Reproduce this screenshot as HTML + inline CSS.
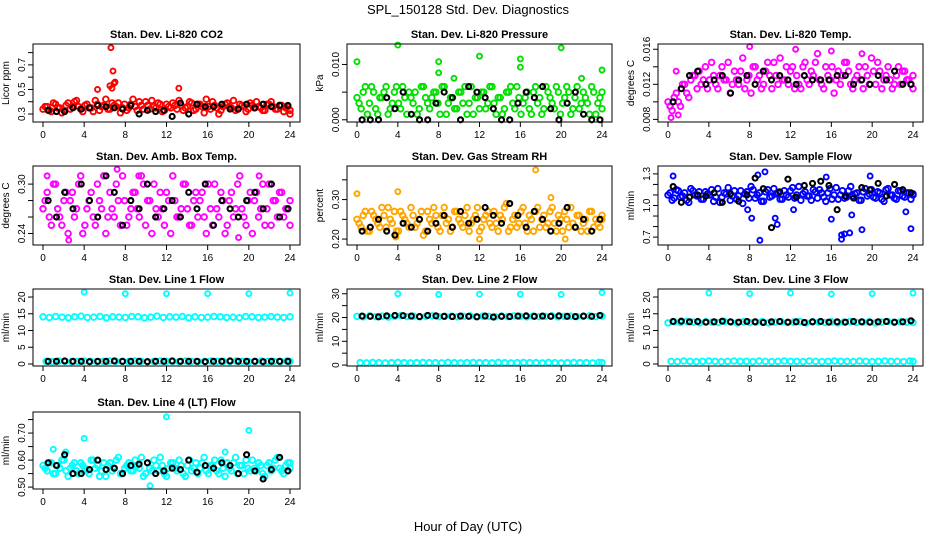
<!DOCTYPE html>
<html><head><meta charset="utf-8">
<style>
body{margin:0;background:#fff;}
svg{display:block;font-family:"Liberation Sans",sans-serif;}
</style></head>
<body>
<svg id="chart" width="936" height="540" viewBox="0 0 936 540">
<rect x="0" y="0" width="936" height="540" fill="#fff"/>
<text x="468" y="14" font-size="13" text-anchor="middle">SPL_150128  Std. Dev. Diagnostics</text>
<text x="468" y="531" font-size="13" text-anchor="middle">Hour of Day (UTC)</text>
</svg>
<script>
const xTicks = [0,4,8,12,16,20,24];

// P1 CO2
const co2Main = [0.34,0.36,0.32,0.38,0.35,0.33,0.39,0.36,0.41,0.34,0.37,0.35,0.32,0.38,0.36,0.42,0.34,0.37,0.39,0.35,0.33,0.38,0.36,0.40,0.34,0.37,0.41,0.35,0.38,0.33,0.36,0.39,0.34,0.37,0.35,0.40,0.33,0.38,0.36,0.42,0.34,0.37,0.30,0.36,0.39,0.35,0.33,0.38,0.36,0.34,0.37,0.40,0.35,0.33,0.38,0.36,0.34,0.37,0.35,0.30];
const co2B = [0.36,0.33,0.39,0.35,0.31,0.37,0.34,0.40,0.36,0.32,0.38,0.35,0.41,0.33,0.37,0.34,0.39,0.36,0.31,0.38,0.35,0.42,0.33,0.37,0.40,0.34,0.36,0.39,0.32,0.38,0.35,0.37,0.41,0.33,0.36,0.39,0.34,0.38,0.31,0.36,0.40,0.35,0.33,0.38,0.36,0.41,0.34,0.37,0.32,0.39,0.35,0.36,0.33,0.38,0.40,0.34,0.37,0.32,0.36,0.33];
const co2Out = [[6.6,0.84],[6.8,0.65],[5.3,0.50],[6.9,0.55],[7.0,0.56],[6.5,0.53],[13.2,0.51],[6.7,0.51]];
const co2Black = [0.33,0.32,0.32,0.35,0.34,0.35,0.37,0.36,0.35,0.34,0.37,0.30,0.33,0.32,0.33,0.28,0.39,0.30,0.38,0.36,0.36,0.38,0.34,0.34,0.38,0.35,0.38,0.36,0.37,0.37];
// P2 Pressure
const presMain = [0.004,0.002,0.006,0.003,0.005,0.001,0.004,0.006,0.002,0.005,0.003,0.006,0.001,0.004,0.005,0.002,0.006,0.003,0.004,0.005,0.001,0.006,0.003,0.004,0.002,0.005,0.006,0.003,0.001,0.004,0.005,0.002,0.006,0.003,0.004,0.001,0.005,0.006,0.002,0.004,0.003,0.005,0.001,0.006,0.004,0.002,0.005,0.003,0.006,0.001,0.004,0.005,0.002,0.006,0.003,0.004,0.001,0.005,0.003,0.002];
const presB = [0.003,0.005,0.001,0.006,0.002,0.004,0.005,0.001,0.003,0.006,0.002,0.004,0.005,0.003,0.001,0.006,0.004,0.002,0.005,0.003,0.006,0.001,0.004,0.002,0.005,0.003,0.001,0.006,0.004,0.002,0.005,0.003,0.006,0.001,0.004,0.002,0.005,0.003,0.006,0.001,0.004,0.002,0.005,0.003,0.001,0.006,0.004,0.002,0.005,0.003,0.006,0.001,0.004,0.002,0.005,0.003,0.006,0.001,0.004,0.005];
const presOut = [[0,0.0105],[4,0.0135],[8,0.0085],[8,0.0105],[12,0.0115],[16,0.0095],[16,0.011],[20,0.013],[24,0.009],[9.5,0.0075],[22,0.0075]];
const presBlack = [0,0,0,0.004,0.002,0.005,0.001,0,0,0.003,0.005,0.004,0,0.006,0.005,0.004,0.002,0,0,0.003,0.005,0.004,0.006,0.002,0,0.003,0.005,0.001,0,0];
// P3 Li-820 temp
const tempMain = [0.010,0.009,0.011,0.0095,0.012,0.0105,0.013,0.0115,0.012,0.014,0.0125,0.013,0.0115,0.014,0.0125,0.011,0.0135,0.012,0.015,0.0125,0.011,0.014,0.013,0.012,0.0145,0.0115,0.013,0.015,0.0125,0.012,0.014,0.013,0.0115,0.0145,0.012,0.013,0.0155,0.012,0.014,0.0125,0.011,0.0135,0.013,0.0145,0.012,0.0125,0.014,0.0115,0.013,0.015,0.012,0.0135,0.0125,0.014,0.0115,0.013,0.012,0.0135,0.0125,0.0115];
const tempB = [0.0095,0.0105,0.010,0.012,0.011,0.0125,0.013,0.0135,0.0125,0.0115,0.0145,0.012,0.013,0.0125,0.0145,0.012,0.0125,0.0135,0.0115,0.013,0.014,0.0125,0.0115,0.0135,0.013,0.0145,0.012,0.0125,0.014,0.0135,0.0115,0.012,0.014,0.0125,0.0135,0.0145,0.0125,0.0115,0.013,0.014,0.0125,0.012,0.0145,0.0135,0.0115,0.013,0.0125,0.014,0.012,0.0135,0.0145,0.0115,0.013,0.0125,0.012,0.014,0.0135,0.0125,0.012,0.013];
const tempOut = [[0.3,0.0082],[0.2,0.0095],[1,0.0085],[8,0.0163],[12.5,0.016],[16,0.0158],[19,0.0155],[0.8,0.0135]];
const tempBlack = [0.010,0.0115,0.013,0.0135,0.012,0.0125,0.013,0.011,0.0125,0.013,0.012,0.0135,0.0125,0.013,0.0125,0.012,0.013,0.0125,0.0125,0.0125,0.013,0.013,0.012,0.0125,0.012,0.013,0.0125,0.0135,0.012,0.012];
// P4 Amb box temp
const ambMain = [0.27,0.29,0.25,0.30,0.26,0.28,0.24,0.29,0.27,0.31,0.25,0.28,0.26,0.30,0.27,0.24,0.29,0.26,0.28,0.31,0.25,0.27,0.29,0.26,0.30,0.28,0.24,0.27,0.29,0.25,0.28,0.31,0.26,0.27,0.30,0.25,0.28,0.26,0.29,0.24,0.27,0.30,0.26,0.28,0.25,0.29,0.27,0.31,0.26,0.28,0.24,0.29,0.27,0.25,0.30,0.28,0.26,0.29,0.27,0.25];
const ambB = [0.28,0.26,0.30,0.27,0.25,0.29,0.28,0.26,0.30,0.24,0.27,0.29,0.25,0.28,0.31,0.26,0.27,0.30,0.25,0.28,0.26,0.29,0.27,0.31,0.25,0.28,0.30,0.26,0.27,0.29,0.24,0.28,0.26,0.30,0.27,0.25,0.29,0.28,0.26,0.30,0.25,0.27,0.29,0.24,0.28,0.26,0.30,0.27,0.25,0.29,0.28,0.26,0.30,0.27,0.25,0.28,0.29,0.26,0.27,0.28];
const ambOut = [[7.2,0.318],[9.3,0.31],[21,0.31],[0.4,0.31],[19,0.235],[2.5,0.232]];
const ambBlack = [0.28,0.26,0.29,0.27,0.30,0.28,0.26,0.31,0.29,0.25,0.28,0.27,0.30,0.26,0.27,0.28,0.26,0.29,0.27,0.30,0.25,0.28,0.27,0.26,0.28,0.29,0.27,0.30,0.26,0.27];
// P5 RH
const rhMain = [0.25,0.23,0.27,0.22,0.26,0.24,0.28,0.23,0.25,0.27,0.22,0.26,0.24,0.28,0.23,0.25,0.21,0.27,0.24,0.26,0.22,0.28,0.25,0.23,0.27,0.24,0.26,0.22,0.25,0.28,0.23,0.26,0.24,0.27,0.22,0.25,0.29,0.23,0.26,0.24,0.28,0.22,0.25,0.27,0.23,0.26,0.24,0.28,0.22,0.25,0.27,0.23,0.24,0.26,0.22,0.25,0.27,0.23,0.24,0.26];
const rhB = [0.24,0.26,0.22,0.27,0.25,0.23,0.26,0.28,0.24,0.22,0.27,0.25,0.23,0.26,0.24,0.27,0.22,0.25,0.28,0.23,0.26,0.24,0.22,0.27,0.25,0.23,0.28,0.24,0.26,0.22,0.25,0.27,0.23,0.24,0.26,0.28,0.22,0.25,0.23,0.27,0.24,0.26,0.22,0.28,0.25,0.23,0.27,0.24,0.26,0.22,0.25,0.28,0.23,0.26,0.24,0.22,0.27,0.25,0.23,0.25];
const rhOut = [[0,0.315],[4,0.32],[17.5,0.375],[19,0.305],[3.8,0.205],[12,0.20],[20.4,0.20]];
const rhBlack = [0.22,0.23,0.25,0.22,0.21,0.24,0.23,0.25,0.22,0.24,0.26,0.23,0.27,0.24,0.25,0.28,0.26,0.24,0.29,0.26,0.23,0.27,0.25,0.22,0.24,0.28,0.23,0.25,0.22,0.25];
// P6 Sample flow
const sfMain = [1.10,1.05,1.15,1.08,1.12,1.03,1.14,1.09,1.06,1.13,1.10,1.04,1.16,1.08,1.11,1.05,1.14,1.09,1.02,1.13,1.18,1.07,1.12,1.04,1.15,1.09,1.11,1.06,1.14,1.08,1.17,1.10,1.05,1.13,1.09,1.15,1.07,1.12,1.04,1.16,1.10,1.06,1.14,1.08,1.18,1.11,1.05,1.13,1.09,1.15,1.07,1.12,1.04,1.16,1.10,1.06,1.14,1.08,1.12,1.10];
const sfB = [1.12,1.07,1.14,1.09,1.05,1.16,1.10,1.13,1.06,1.11,1.15,1.08,1.03,1.12,1.17,1.09,1.06,1.14,1.11,1.07,1.15,1.10,1.04,1.13,1.08,1.16,1.12,1.06,1.10,1.14,1.07,1.18,1.11,1.09,1.05,1.13,1.15,1.08,1.12,1.06,1.17,1.10,1.07,1.14,1.09,1.12,1.05,1.16,1.11,1.08,1.13,1.06,1.15,1.10,1.07,1.14,1.09,1.12,1.06,1.11];
const sfOut = [[0.5,1.28],[8.8,1.29],[9.5,1.32],[15.5,1.27],[19.8,1.28],[8.2,0.88],[10.5,0.88],[10.7,0.82],[12.3,0.96],[16,0.87],[17,0.72],[17.3,0.73],[17.8,0.74],[9,0.67],[17,0.68],[19,0.77],[23.8,0.78],[18,0.91],[23.3,0.94],[7.8,0.96]];
const sfBlack = [1.18,1.03,1.08,1.10,1.09,1.12,1.03,1.11,1.04,1.10,1.26,1.16,0.79,1.13,1.25,1.08,1.19,1.21,1.23,1.19,0.96,1.09,1.07,1.17,1.15,1.21,1.09,1.20,1.15,1.12];
// P7 Line 1
const l1High = [14.1,13.9,14.2,14.0,13.8,14.1,14.3,13.9,14.0,14.2,13.8,14.1,14.0,13.9,14.2,14.1,13.8,14.0,14.3,13.9,14.1,14.0,14.2,13.8,14.1,13.9,14.0,14.2,14.1,13.9,14.0,13.8,14.2,14.1,13.9,14.0,14.2,14.0,13.9,14.1];
const l1Low = [0.8,0.7,0.9,0.8,0.7,0.8,0.9,0.8,0.7,0.8,0.9,0.8,0.8,0.7,0.9,0.8,0.7,0.8,0.9,0.8,0.8,0.7,0.9,0.8,0.7,0.8,0.9,0.8,0.8,0.7,0.9,0.8,0.7,0.8,0.9,0.8,0.8,0.7,0.9,0.8];
const l1Out = [[4,21.5],[8,21],[12,21],[16,21],[20,21],[24,21.2]];
const l1Black = [0.8,0.8,0.9,0.8,0.8,0.7,0.8,0.8,0.9,0.8,0.8,0.8,0.7,0.8,0.8,0.9,0.8,0.8,0.8,0.7,0.8,0.8,0.9,0.8,0.8,0.8,0.7,0.8,0.8,0.8];
// P8 Line 2
const l2High = [20.5,20.3,20.7,20.4,20.6,20.2,20.5,20.8,20.4,20.6,20.3,20.5,20.7,20.4,20.5,20.6,20.3,20.5,20.7,20.4,20.6,20.5,20.3,20.6,20.4,20.7,20.5,20.3,20.6,20.4,20.5,20.7,20.3,20.5,20.6,20.4,20.5,20.7,20.4,20.6];
const l2Low = [1.0,0.9,1.1,1.0,0.9,1.0,1.1,1.0,0.9,1.0,1.1,1.0,1.0,0.9,1.1,1.0,0.9,1.0,1.1,1.0,1.0,0.9,1.1,1.0,0.9,1.0,1.1,1.0,1.0,0.9,1.1,1.0,0.9,1.0,1.1,1.0,1.0,0.9,1.1,1.0];
const l2Out = [[4,30],[8,29.7],[12,29.8],[16,29.8],[20,29.7],[24,30.5]];
const l2Black = [20.6,20.5,20.3,20.7,20.9,20.8,20.6,20.4,20.9,20.7,20.5,20.4,20.6,20.5,20.3,20.6,20.2,20.5,20.4,20.6,20.7,20.5,20.6,20.5,20.7,20.5,20.4,20.6,20.5,20.9];
// P9 Line 3
const l3High = [12.3,12.6,12.4,12.7,12.5,12.3,12.6,12.5,12.4,12.7,12.5,12.3,12.6,12.4,12.5,12.7,12.3,12.5,12.6,12.4,12.5,12.7,12.3,12.6,12.5,12.4,12.6,12.3,12.5,12.7,12.4,12.5,12.6,12.3,12.5,12.7,12.4,12.6,12.5,12.4];
const l3Low = [0.8,0.7,0.9,0.8,0.7,0.8,0.9,0.8,0.7,0.8,0.9,0.8,0.8,0.7,0.9,0.8,0.7,0.8,0.9,0.8,0.8,0.7,0.9,0.8,0.7,0.8,0.9,0.8,0.8,0.7,0.9,0.8,0.7,0.8,0.9,0.8,0.8,0.7,0.9,0.8];
const l3Out = [[4,21.2],[8,21],[12,21.2],[16,20.9],[20,21],[24,21.2]];
const l3Black = [12.7,12.8,12.6,12.7,12.5,12.6,12.8,12.6,12.5,12.7,12.6,12.4,12.6,12.7,12.5,12.6,12.4,12.6,12.7,12.5,12.6,12.5,12.7,12.6,12.5,12.6,12.7,12.5,12.6,12.9];
// P10 Line 4
const l4Main = [0.58,0.56,0.59,0.55,0.57,0.60,0.54,0.58,0.56,0.59,0.57,0.55,0.60,0.58,0.56,0.54,0.59,0.57,0.61,0.55,0.58,0.56,0.60,0.57,0.54,0.59,0.56,0.58,0.61,0.55,0.57,0.59,0.56,0.58,0.54,0.60,0.57,0.55,0.59,0.56,0.58,0.60,0.55,0.57,0.59,0.56,0.61,0.58,0.55,0.57,0.60,0.56,0.58,0.54,0.59,0.57,0.61,0.56,0.58,0.59];
const l4B = [0.57,0.59,0.55,0.58,0.60,0.56,0.57,0.59,0.55,0.58,0.56,0.60,0.57,0.54,0.59,0.58,0.56,0.60,0.55,0.57,0.59,0.56,0.58,0.61,0.55,0.57,0.60,0.56,0.58,0.54,0.59,0.57,0.60,0.55,0.58,0.56,0.59,0.57,0.61,0.55,0.58,0.56,0.60,0.54,0.57,0.59,0.55,0.58,0.60,0.56,0.57,0.59,0.55,0.58,0.56,0.60,0.57,0.55,0.59,0.57];
const l4Out = [[12,0.76],[4,0.68],[20,0.71],[1,0.64],[17.7,0.63],[10.4,0.505],[2.2,0.63]];
const l4Black = [0.59,0.58,0.62,0.55,0.55,0.565,0.60,0.565,0.57,0.55,0.58,0.585,0.59,0.55,0.56,0.57,0.565,0.60,0.555,0.58,0.57,0.59,0.58,0.55,0.62,0.56,0.53,0.565,0.61,0.56];

const NS = "http://www.w3.org/2000/svg";
const svg = document.getElementById('chart');
const cols = [[33,300],[347,612],[658,923]];
const rows = [[44,122],[166,245],[289,366],[412,489]];

const panels = [
 {id:'co2',title:'Stan. Dev. Li-820 CO2',ylab:'Licor ppm',c:0,r:0,dom:[0.235,0.87],ticks:[0.3,0.4,0.5,0.6,0.7,0.8],labs:[0.3,0.5,0.7],dec:1,color:'#ff0000',main:[co2Main,co2B],out:co2Out,black:co2Black},
 {id:'pressure',title:'Stan. Dev. Li-820 Pressure',ylab:'kPa',c:1,r:0,dom:[-0.0004,0.0137],ticks:[0,0.005,0.010],labs:[0,0.010],dec:3,color:'#00e000',main:[presMain,presB],out:presOut,black:presBlack},
 {id:'li820-temp',title:'Stan. Dev. Li-820 Temp.',ylab:'degrees C',c:2,r:0,dom:[0.0077,0.0166],ticks:[0.008,0.010,0.012,0.014,0.016],labs:[0.008,0.012,0.016],dec:3,color:'#ff00ff',main:[tempMain,tempB],out:tempOut,black:tempBlack},
 {id:'amb-box-temp',title:'Stan. Dev. Amb. Box Temp.',ylab:'degrees C',c:0,r:1,dom:[0.226,0.322],ticks:[0.24,0.26,0.28,0.30],labs:[0.24,0.30],dec:2,color:'#ff00ff',main:[ambMain,ambB],out:ambOut,black:ambBlack},
 {id:'gas-stream-rh',title:'Stan. Dev. Gas Stream RH',ylab:'percent',c:1,r:1,dom:[0.185,0.385],ticks:[0.20,0.25,0.30,0.35],labs:[0.20,0.30],dec:2,color:'#ffa500',main:[rhMain,rhB],out:rhOut,black:rhBlack},
 {id:'sample-flow',title:'Stan. Dev. Sample Flow',ylab:'ml/min',c:2,r:1,dom:[0.625,1.375],ticks:[0.7,0.8,0.9,1.0,1.1,1.2,1.3],labs:[0.7,1.0,1.3],dec:1,color:'#0000ff',main:[sfMain,sfB],out:sfOut,black:sfBlack},
 {id:'line1-flow',title:'Stan. Dev. Line 1 Flow',ylab:'ml/min',c:0,r:2,dom:[-0.6,22.4],ticks:[0,5,10,15,20],labs:[0,5,10,15,20],dec:0,color:'#00ffff',main:[l1High,l1Low],out:l1Out,black:l1Black},
 {id:'line2-flow',title:'Stan. Dev. Line 2 Flow',ylab:'ml/min',c:1,r:2,dom:[-0.4,32],ticks:[0,5,10,15,20,25,30],labs:[0,10,20,30],dec:0,color:'#00ffff',main:[l2High,l2Low],out:l2Out,black:l2Black},
 {id:'line3-flow',title:'Stan. Dev. Line 3 Flow',ylab:'ml/min',c:2,r:2,dom:[-0.6,22.4],ticks:[0,5,10,15,20],labs:[0,5,10,15,20],dec:0,color:'#00ffff',main:[l3High,l3Low],out:l3Out,black:l3Black},
 {id:'line4-flow',title:'Stan. Dev. Line 4 (LT) Flow',ylab:'ml/min',c:0,r:3,dom:[0.493,0.778],ticks:[0.50,0.55,0.60,0.65,0.70,0.75],labs:[0.50,0.60,0.70],dec:2,color:'#00ffff',main:[l4Main,l4B],out:l4Out,black:l4Black}
];

function mk(tag, attrs, parent){
  const e = document.createElementNS(NS, tag);
  for (const k in attrs) e.setAttribute(k, attrs[k]);
  (parent||svg).appendChild(e);
  return e;
}

panels.forEach(p => {
  const [L,R] = cols[p.c], [T,B] = rows[p.r];
  const x0 = L+10, x1 = R-10;
  const xs = h => x0 + (h/24)*(x1-x0);
  const ys = v => B - (v-p.dom[0])/(p.dom[1]-p.dom[0])*(B-T);
  const g = mk('g', {});
  
  

  const t = mk('text', {x:(L+R)/2, y:T-6, 'font-size':11, 'font-weight':'bold', 'text-anchor':'middle'}, g);
  t.textContent = p.title;
  
  

  const yl = mk('text', {x:L-24, y:(T+B)/2, 'font-size':10, 'text-anchor':'middle', transform:`rotate(-90 ${L-24} ${(T+B)/2})`}, g);
  yl.textContent = p.ylab;
  
  

  const pts = mk('g', {fill:'none', 'stroke-width':1.9}, g);
  
  
  p.main.forEach((arr, k) => {
    const n = arr.length;
    arr.forEach((v,i) => {
      const h = Math.min(24, (i + k*0.5)*24/(n-1));
      const c = mk('circle', {cx:xs(h), cy:ys(v), r:2.8, stroke:p.color}, pts);
      
      
    });
  });
  p.out.forEach(([h,v]) => {
    const c = mk('circle', {cx:xs(h), cy:ys(v), r:2.5, stroke:p.color}, pts);
    
    
  });
  const nb = p.black.length;
  p.black.forEach((v,i) => {
    const c = mk('circle', {cx:xs(0.5 + i*23.3/(nb-1)), cy:ys(v), r:2.5, stroke:'#000', 'stroke-width':2.1}, pts);
    
    
  });

  const box = mk('rect', {x:L, y:T, width:R-L, height:B-T, fill:'none', stroke:'#000', 'stroke-width':1}, g);
  
  

  const xa = mk('g', {}, g);
  
  
  xTicks.forEach(h => {
    mk('line', {x1:xs(h), x2:xs(h), y1:B, y2:B+5, stroke:'#000'}, xa);
    const tl = mk('text', {x:xs(h), y:B+16, 'font-size':10, 'text-anchor':'middle'}, xa);
    tl.textContent = h;
    
    
  });
  const ya = mk('g', {}, g);
  
  
  p.ticks.forEach(v => {
    mk('line', {x1:L-5, x2:L, y1:ys(v), y2:ys(v), stroke:'#000'}, ya);
  });
  p.labs.forEach(v => {
    const tl = mk('text', {x:L-8, y:ys(v), 'font-size':10, 'text-anchor':'middle', transform:`rotate(-90 ${L-8} ${ys(v)})`}, ya);
    tl.textContent = v.toFixed(p.dec);
    
    
  });
});
</script>
</body></html>
